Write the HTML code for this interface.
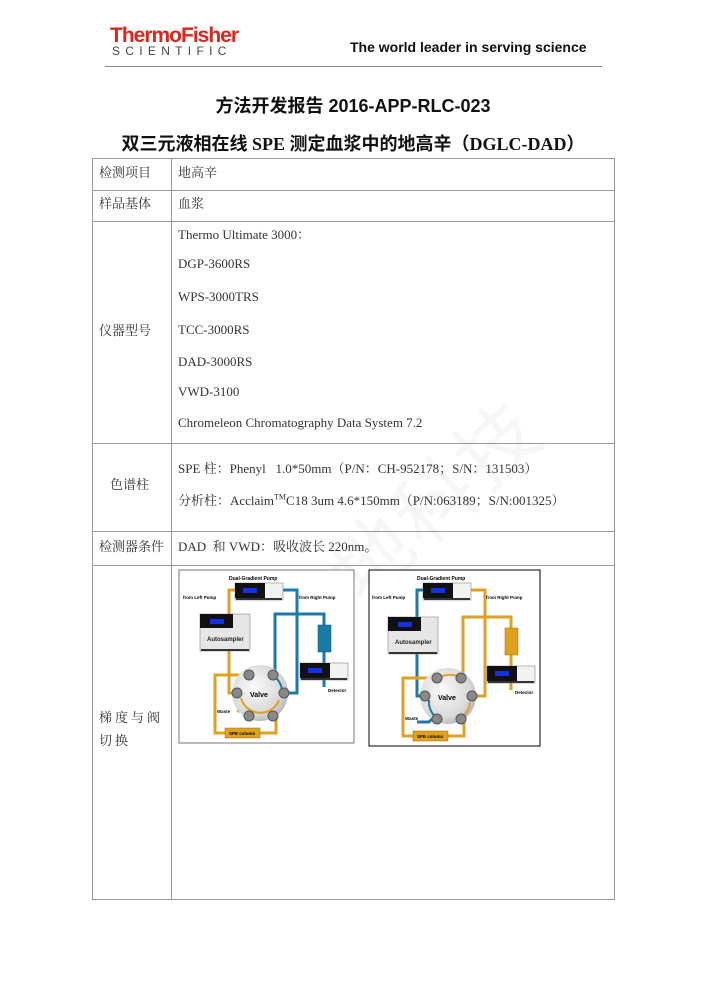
<!DOCTYPE html>
<html><head><meta charset="utf-8">
<style>
body{margin:0;width:706px;height:1000px;background:#fff;position:relative;overflow:hidden;font-family:"Liberation Serif","Noto Serif CJK SC",serif;color:#222}
.a{position:absolute;white-space:nowrap}
.t{font-size:13px;color:#333}
.h{position:absolute;background:#999;height:1px}
.v{position:absolute;background:#999;width:1px}
</style></head><body>
<div class="a" style="left:110px;top:26px;font-family:'Liberation Sans',sans-serif;font-weight:bold;font-size:21px;color:#e0241b;letter-spacing:-1px;line-height:20px">ThermoFisher</div>
<div class="a" style="left:112px;top:45px;font-family:'Liberation Sans',sans-serif;font-size:12px;color:#444;letter-spacing:5.3px;line-height:12px">SCIENTIFIC</div>
<div class="a" style="left:350px;top:39px;font-family:'Liberation Sans',sans-serif;font-weight:bold;font-size:14px;color:#111">The world leader in serving science</div>
<div class="a" style="left:105px;top:66px;width:497px;height:1px;background:#888"></div>

<div class="a" style="left:0;width:706px;top:92px;text-align:center;font-family:'Liberation Sans','Noto Sans CJK SC',sans-serif;font-weight:bold;font-size:18px;color:#111">方法开发报告 2016-APP-RLC-023</div>
<div class="a" style="left:0;width:706px;top:130px;text-align:center;font-family:'Liberation Serif','Noto Sans CJK SC',serif;font-weight:bold;font-size:18px;color:#111">双三元液相在线 SPE 测定血浆中的地高辛（DGLC-DAD）</div>

<!-- watermark -->
<div class="a" style="left:175px;top:650px;font-family:'Noto Sans CJK SC',sans-serif;font-size:80px;color:rgba(0,0,0,0.035);transform:rotate(-42deg);transform-origin:0 0;letter-spacing:4px">华东地科技</div>

<!-- table -->
<div class="h" style="left:92px;top:158px;width:523px"></div>
<div class="h" style="left:92px;top:190px;width:523px"></div>
<div class="h" style="left:92px;top:221px;width:523px"></div>
<div class="h" style="left:92px;top:443px;width:523px"></div>
<div class="h" style="left:92px;top:531px;width:523px"></div>
<div class="h" style="left:92px;top:565px;width:523px"></div>
<div class="h" style="left:92px;top:899px;width:523px"></div>
<div class="v" style="left:92px;top:158px;height:742px"></div>
<div class="v" style="left:171px;top:158px;height:742px"></div>
<div class="v" style="left:614px;top:158px;height:742px"></div>

<div class="a t" style="left:99px;top:162px">检测项目</div>
<div class="a t" style="left:178px;top:162px">地高辛</div>
<div class="a t" style="left:99px;top:193px">样品基体</div>
<div class="a t" style="left:178px;top:193px">血浆</div>
<div class="a t" style="left:99px;top:320px">仪器型号</div>
<div class="a t" style="left:178px;top:224px">Thermo Ultimate 3000：</div>
<div class="a t" style="left:178px;top:256px">DGP-3600RS</div>
<div class="a t" style="left:178px;top:289px">WPS-3000TRS</div>
<div class="a t" style="left:178px;top:322px">TCC-3000RS</div>
<div class="a t" style="left:178px;top:354px">DAD-3000RS</div>
<div class="a t" style="left:178px;top:384px">VWD-3100</div>
<div class="a t" style="left:178px;top:415px">Chromeleon Chromatography Data System 7.2</div>
<div class="a t" style="left:110px;top:474px">色谱柱</div>
<div class="a t" style="left:178px;top:458px">SPE 柱：Phenyl&nbsp;&nbsp;&nbsp;1.0*50mm（P/N：CH-952178；S/N：131503）</div>
<div class="a t" style="left:178px;top:490px">分析柱：Acclaim<sup style="font-size:8px">TM</sup>C18 3um 4.6*150mm（P/N:063189；S/N:001325）</div>
<div class="a t" style="left:99px;top:536px">检测器条件</div>
<div class="a t" style="left:178px;top:536px">DAD&nbsp; 和 VWD：吸收波长 220nm。</div>
<div class="a t" style="left:99px;top:707px;letter-spacing:3px">梯度与阀</div>
<div class="a t" style="left:99px;top:730px;letter-spacing:3px">切换</div>

<svg class="a" style="left:0;top:0" width="706" height="1000">
<defs>
<g id="dev"><rect x="0" y="0" width="48" height="17" fill="#f2f2f2" stroke="#888" stroke-width="0.6"/><rect x="0" y="0" width="30" height="15" fill="#111"/><rect x="8" y="5" width="14" height="5" fill="#1530e0"/><rect x="1" y="15" width="46" height="2" fill="#333"/></g>
<g id="auto"><rect x="0" y="0" width="50" height="37" fill="#e6e6e6" stroke="#888" stroke-width="0.6"/><rect x="0" y="0" width="33" height="14" fill="#111"/><rect x="10" y="5" width="14" height="5" fill="#1530e0"/><rect x="1" y="35" width="48" height="2" fill="#333"/><text x="7" y="27" font-family="Liberation Sans,sans-serif" font-size="6" font-weight="bold" fill="#222">Autosampler</text></g>
<radialGradient id="vg" cx="0.4" cy="0.4" r="0.7"><stop offset="0" stop-color="#fafafa"/><stop offset="0.7" stop-color="#d8d8d8"/><stop offset="1" stop-color="#aaa"/></radialGradient>
</defs>
<!-- diagram 1 -->
<g transform="translate(179,570)">
<rect x="0" y="0" width="175" height="173" fill="#fff" stroke="#777" stroke-width="1"/>
<g fill="none" stroke-width="3">
<path d="M56 20 H50 V123 H60" stroke="#e0a020"/>
<path d="M74 105 H36 V163 H97 V147" stroke="#e0a020"/>
<path d="M104 20 H118 V123 H104" stroke="#1a7aa8"/>
<path d="M96 105 V44 H145 V117" stroke="#1a7aa8"/>
<path d="M66 141 H58" stroke="#e0a020"/>
</g>
<text x="50" y="10" font-family="Liberation Sans,sans-serif" font-size="5" font-weight="bold">Dual-Gradient Pump</text>
<text x="4" y="29" font-family="Liberation Sans,sans-serif" font-size="4.5" font-weight="bold">from Left Pump</text>
<text x="120" y="29" font-family="Liberation Sans,sans-serif" font-size="4.5" font-weight="bold">from Right Pump</text>
<use href="#dev" x="56" y="13"/>
<use href="#auto" x="21" y="44"/>
<use href="#dev" x="121" y="93"/>
<rect x="139" y="55" width="13" height="27" fill="#1a7aa8" stroke="#0d4f70" stroke-width="0.5"/>
<circle cx="81" cy="123" r="28" fill="url(#vg)"/>
<path d="M62 128 A20 20 0 0 0 100 130" fill="none" stroke="#e0a020" stroke-width="2"/>
<path d="M96 107 A20 20 0 0 1 103 122" fill="none" stroke="#1a7aa8" stroke-width="2"/>
<g fill="#888" stroke="#555" stroke-width="1"><circle cx="70" cy="105" r="5"/><circle cx="94" cy="105" r="5"/><circle cx="105" cy="123" r="5"/><circle cx="94" cy="146" r="5"/><circle cx="70" cy="146" r="5"/><circle cx="58" cy="123" r="5"/></g>
<text x="71" y="127" font-family="Liberation Sans,sans-serif" font-size="7" font-weight="bold">Valve</text>
<text x="38" y="143" font-family="Liberation Sans,sans-serif" font-size="4.5" font-weight="bold">Waste</text>
<text x="149" y="122" font-family="Liberation Sans,sans-serif" font-size="4.5" font-weight="bold">Detector</text>
<rect x="46" y="158" width="35" height="10" fill="#e0a020" stroke="#a06a00" stroke-width="0.5"/>
<text x="50" y="165" font-family="Liberation Sans,sans-serif" font-size="4.5" font-weight="bold">SPE column</text>
</g>
<!-- diagram 2 -->
<g transform="translate(369,570)">
<rect x="0" y="0" width="171" height="176" fill="#fff" stroke="#000" stroke-width="1"/>
<g fill="none" stroke-width="3">
<path d="M54 20 H48 V126 H58" stroke="#1a7aa8"/>
<path d="M72 108 H34 V166 H95 V150" stroke="#e0a020"/>
<path d="M102 20 H116 V126 H102" stroke="#e0a020"/>
<path d="M94 108 V47 H142 V120" stroke="#e0a020"/>
<path d="M66 146 L60 152 H48" stroke="#1a7aa8"/>
</g>
<text x="48" y="10" font-family="Liberation Sans,sans-serif" font-size="5" font-weight="bold">Dual-Gradient Pump</text>
<text x="3" y="29" font-family="Liberation Sans,sans-serif" font-size="4.5" font-weight="bold">from Left Pump</text>
<text x="117" y="29" font-family="Liberation Sans,sans-serif" font-size="4.5" font-weight="bold">from Right Pump</text>
<use href="#dev" x="54" y="13"/>
<use href="#auto" x="19" y="47"/>
<use href="#dev" x="118" y="96"/>
<rect x="136" y="58" width="13" height="27" fill="#e0a020" stroke="#a06a00" stroke-width="0.5"/>
<circle cx="79" cy="126" r="28" fill="url(#vg)"/>
<path d="M101 132 A20 20 0 0 1 94 146" fill="none" stroke="#e0a020" stroke-width="2"/>
<path d="M70 108 A20 20 0 0 1 92 108" fill="none" stroke="#e0a020" stroke-width="2"/>
<path d="M60 130 A20 20 0 0 0 68 148" fill="none" stroke="#1a7aa8" stroke-width="2"/>
<g fill="#888" stroke="#555" stroke-width="1"><circle cx="68" cy="108" r="5"/><circle cx="92" cy="108" r="5"/><circle cx="103" cy="126" r="5"/><circle cx="92" cy="149" r="5"/><circle cx="68" cy="149" r="5"/><circle cx="56" cy="126" r="5"/></g>
<text x="69" y="130" font-family="Liberation Sans,sans-serif" font-size="7" font-weight="bold">Valve</text>
<text x="36" y="150" font-family="Liberation Sans,sans-serif" font-size="4.5" font-weight="bold">Waste</text>
<text x="146" y="124" font-family="Liberation Sans,sans-serif" font-size="4.5" font-weight="bold">Detector</text>
<rect x="44" y="161" width="35" height="10" fill="#e0a020" stroke="#a06a00" stroke-width="0.5"/>
<text x="48" y="168" font-family="Liberation Sans,sans-serif" font-size="4.5" font-weight="bold">SPE column</text>
</g>
</svg>
</body></html>
